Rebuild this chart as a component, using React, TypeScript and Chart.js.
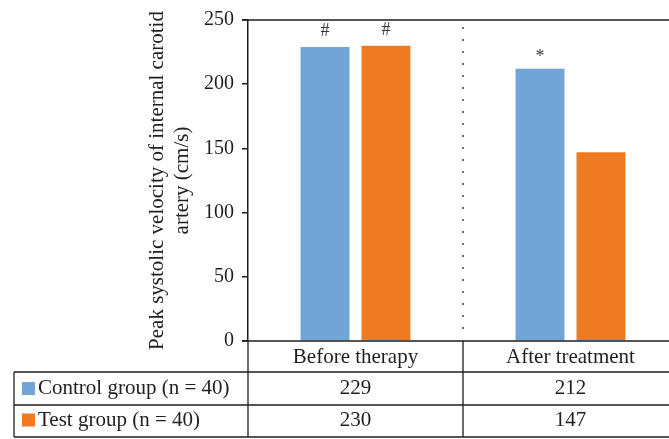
import React, { useEffect, useRef } from 'react';
import { Chart, registerables } from 'chart.js';

Chart.register(...registerables);

const categories = ['Before therapy', 'After treatment'];
const seriesNames = ['Control group (n = 40)', 'Test group (n = 40)'];
const controlValues = [229, 212];
const testValues = [230, 147];
const controlMarks = ['#', '*'];
const testMarks = ['#', ''];
const yTicks = [0, 50, 100, 150, 200, 250];
const yTitle = ['Peak systolic velocity of internal carotid', 'artery (cm/s)'];
const seriesColors = ['#72A5D7', '#EE7B21'];

const FONT = '"Liberation Serif", "Times New Roman", serif';
const INK = '#1f1f1f';

const tablePlugin = {
  id: 'tablePlugin',
  afterDraw(chart: any) {
    const ctx = chart.ctx;
    const { left, right, top, bottom } = chart.chartArea;
    const xs = chart.scales.x;
    const ys = chart.scales.y;
    const W = chart.width;
    const centers = categories.map((_, i) => xs.getPixelForValue(i));
    const seps: number[] = [left];
    for (let i = 1; i < centers.length; i++) seps.push((centers[i - 1] + centers[i]) / 2);
    seps.push(right);

    const tableLeft = 14;
    const rowBottoms = [bottom + 31, bottom + 64, bottom + 96];
    const rowCenters = [bottom + 16.5, bottom + 47.5, bottom + 79];

    ctx.save();
    // dotted separators
    ctx.strokeStyle = '#6f6f6f';
    ctx.lineWidth = 2;
    ctx.setLineDash([2, 10]);
    for (let i = 1; i < seps.length - 1; i++) {
      ctx.beginPath();
      ctx.moveTo(seps[i], top + 7);
      ctx.lineTo(seps[i], bottom - 2);
      ctx.stroke();
    }
    ctx.setLineDash([]);

    // top line and axis line
    ctx.strokeStyle = INK;
    ctx.lineWidth = 1.5;
    const y250 = ys.getPixelForValue(yTicks[yTicks.length - 1]);
    const y0 = ys.getPixelForValue(0);
    ctx.beginPath();
    ctx.moveTo(left - 6, y250);
    ctx.lineTo(W, y250);
    ctx.moveTo(left - 6, y0);
    ctx.lineTo(W, y0);
    ctx.stroke();

    // table lines
    ctx.lineWidth = 1.3;
    ctx.beginPath();
    ctx.moveTo(left, bottom);
    ctx.lineTo(left, rowBottoms[2]);
    for (let i = 1; i < seps.length - 1; i++) {
      ctx.moveTo(seps[i], bottom);
      ctx.lineTo(seps[i], rowBottoms[2]);
    }
    ctx.moveTo(tableLeft, rowBottoms[0]);
    ctx.lineTo(tableLeft, rowBottoms[2]);
    rowBottoms.forEach((yb) => {
      ctx.moveTo(tableLeft, yb);
      ctx.lineTo(W, yb);
    });
    ctx.stroke();

    // text
    ctx.fillStyle = INK;
    ctx.font = `21px ${FONT}`;
    ctx.textBaseline = 'middle';
    ctx.textAlign = 'center';
    categories.forEach((c, i) => ctx.fillText(c, centers[i], rowCenters[0]));
    const rows = [controlValues, testValues];
    rows.forEach((vals, r) => {
      vals.forEach((v, i) => ctx.fillText(String(v), centers[i], rowCenters[r + 1]));
    });
    ctx.textAlign = 'left';
    seriesNames.forEach((n, r) => {
      const cy = rowCenters[r + 1];
      ctx.fillStyle = seriesColors[r];
      ctx.fillRect(22, cy - 6.5, 13, 13);
      ctx.fillStyle = INK;
      ctx.fillText(n, 38, cy);
    });

    // annotations
    ctx.font = `18px ${FONT}`;
    ctx.fillStyle = '#3a3a3a';
    ctx.textAlign = 'center';
    ctx.textBaseline = 'alphabetic';
    const marks = [controlMarks, testMarks];
    marks.forEach((mk, d) => {
      const meta = chart.getDatasetMeta(d);
      mk.forEach((m, i) => {
        if (!m) return;
        const el = meta.data[i];
        ctx.fillText(m, el.x, el.y - (m === '*' ? 7 : 11));
      });
    });
    ctx.restore();
  },
};

export default function App() {
  const ref = useRef<HTMLCanvasElement | null>(null);
  useEffect(() => {
    if (!ref.current) return;
    const chart = new Chart(ref.current, {
      type: 'bar',
      data: {
        labels: categories,
        datasets: [
          {
            label: seriesNames[0],
            data: controlValues,
            backgroundColor: seriesColors[0],
            borderWidth: 0,
            barPercentage: 0.803,
            categoryPercentage: 0.567,
          },
          {
            label: seriesNames[1],
            data: testValues,
            backgroundColor: seriesColors[1],
            borderWidth: 0,
            barPercentage: 0.803,
            categoryPercentage: 0.567,
          },
        ],
      },
      options: {
        responsive: false,
        animation: false,
        devicePixelRatio: 1,
        layout: { padding: { left: 0, right: 0, top: 16, bottom: 98 } },
        plugins: {
          legend: { display: false },
          tooltip: { enabled: false },
        },
        scales: {
          x: { display: false },
          y: {
            min: 0,
            max: 250,
            afterBuildTicks: (s: any) => {
              s.ticks = yTicks.map((v) => ({ value: v }));
            },
            afterFit: (s: any) => {
              s.width = 248;
            },
            ticks: {
              font: { family: FONT, size: 20 },
              color: INK,
              padding: 8,
            },
            grid: {
              drawOnChartArea: false,
              drawTicks: true,
              tickLength: 6,
              color: INK,
              lineWidth: 1.5,
            },
            border: { display: true, color: INK, width: 1.5 },
            title: {
              display: true,
              text: yTitle,
              font: { family: FONT, size: 21, lineHeight: 1.2 },
              color: INK,
              padding: { top: 144.5, bottom: 0 },
            },
          },
        },
      },
      plugins: [tablePlugin],
    });
    return () => chart.destroy();
  }, []);
  return (
    <div
      style={{
        position: 'absolute',
        left: 0,
        top: 0,
        width: 669,
        height: 439,
        overflow: 'hidden',
        background: '#fff',
      }}
    >
      <canvas ref={ref} width={678} height={439} style={{ display: 'block' }} />
    </div>
  );
}
